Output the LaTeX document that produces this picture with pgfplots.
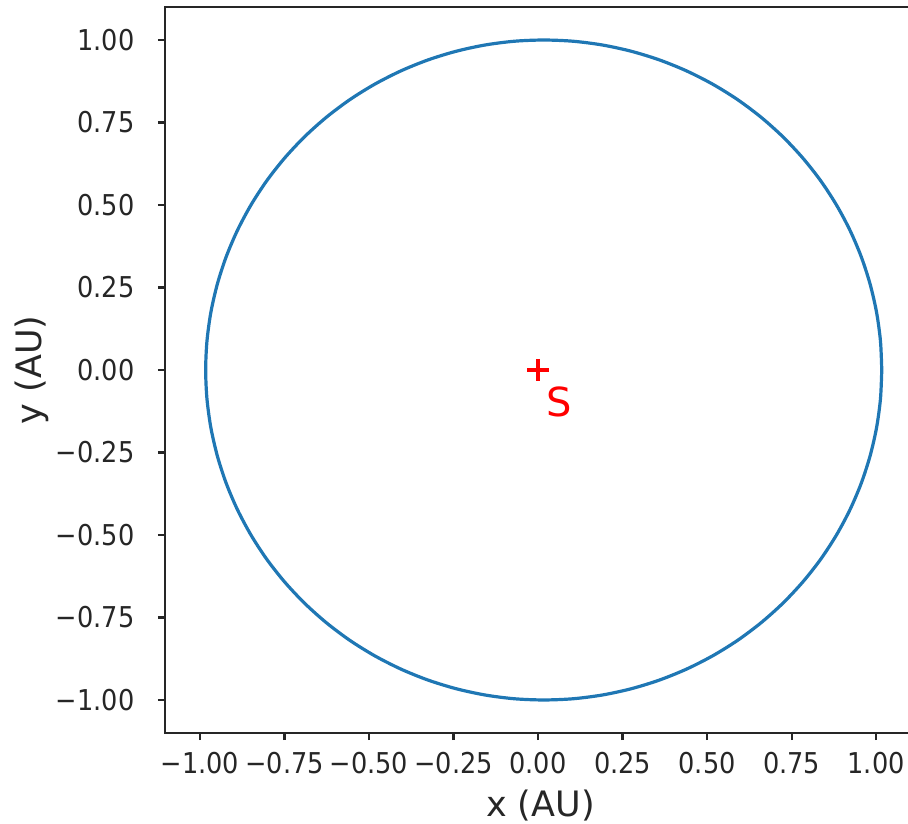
\documentclass[border=0pt]{standalone}
\usepackage{fontspec}
\setmainfont{DejaVu Sans}
\usepackage{pgfplots}
\pgfplotsset{compat=1.18}
\definecolor{mplblue}{HTML}{1F77B4}
\begin{document}
\begin{tikzpicture}
\begin{axis}[
  scale only axis,
  width=375.5pt, height=363pt,
  xmin=-1.1036, xmax=1.1180,
  ymin=-1.1000, ymax=1.1000,
  axis line style={black!85, line width=1.1pt},
  tick style={black!85, line width=1.1pt},
  tick align=outside,
  major tick length=3.6pt,
  xtick={-1,-0.75,-0.5,-0.25,0,0.25,0.5,0.75,1},
  ytick={-1,-0.75,-0.5,-0.25,0,0.25,0.5,0.75,1},
  xticklabels={−1.00,−0.75,−0.50,−0.25,0.00,0.25,0.50,0.75,1.00},
  yticklabels={−1.00,−0.75,−0.50,−0.25,0.00,0.25,0.50,0.75,1.00},
  xtick pos=bottom, ytick pos=left,
  xticklabel style={font=\fontsize{12.8}{14}\selectfont, yscale=1.12, anchor=north, inner sep=0pt, yshift=-5pt, text=black!85},
  yticklabel style={font=\fontsize{12.8}{14}\selectfont, yscale=1.12, anchor=east, inner sep=0pt, xshift=-11.5pt, text=black!85},
  xlabel={x (AU)}, ylabel={y (AU)},
  xlabel style={font=\fontsize{17.5}{20}\selectfont, at={(axis description cs:0.5,-0.1)}, anchor=center, text=black!85},
  ylabel style={font=\fontsize{17.5}{20}\selectfont, at={(axis description cs:-0.1771,0.5)}, anchor=center, text=black!85},
  clip=true,
]
\addplot[mplblue, line width=1.6pt, no markers, smooth] coordinates {
(1.0167,0) (1.0129,0.0872) (1.0015,0.1737) (0.9826,0.2588) (0.9564,0.3420) (0.9230,0.4226) (0.8827,0.5) (0.8359,0.5736) (0.7827,0.6428) (0.7238,0.7071) (0.6595,0.7660) (0.5903,0.8192) (0.5167,0.8660) (0.4393,0.9063) (0.3587,0.9397) (0.2755,0.9659) (0.1904,0.9848) (0.1039,0.9962) (0.0167,0.9999)
(-0.0705,0.9962) (-0.1570,0.9848) (-0.2421,0.9659) (-0.3253,0.9397) (-0.4059,0.9063) (-0.4833,0.8660) (-0.5569,0.8192) (-0.6261,0.7660) (-0.6904,0.7071) (-0.7493,0.6428) (-0.8025,0.5736) (-0.8493,0.5) (-0.8896,0.4226) (-0.9230,0.3420) (-0.9492,0.2588) (-0.9681,0.1737) (-0.9795,0.0872) (-0.9833,0)
(-0.9795,-0.0872) (-0.9681,-0.1737) (-0.9492,-0.2588) (-0.9230,-0.3420) (-0.8896,-0.4226) (-0.8493,-0.5) (-0.8025,-0.5736) (-0.7493,-0.6428) (-0.6904,-0.7071) (-0.6261,-0.7660) (-0.5569,-0.8192) (-0.4833,-0.8660) (-0.4059,-0.9063) (-0.3253,-0.9397) (-0.2421,-0.9659) (-0.1570,-0.9848) (-0.0705,-0.9962) (0.0167,-0.9999)
(0.1039,-0.9962) (0.1904,-0.9848) (0.2755,-0.9659) (0.3587,-0.9397) (0.4393,-0.9063) (0.5167,-0.8660) (0.5903,-0.8192) (0.6595,-0.7660) (0.7238,-0.7071) (0.7827,-0.6428) (0.8359,-0.5736) (0.8827,-0.5) (0.9230,-0.4226) (0.9564,-0.3420) (0.9826,-0.2588) (1.0015,-0.1737) (1.0129,-0.0872) (1.0167,0)
};
\addplot[only marks, mark=+, mark size=5.5pt, red, mark options={line width=2.2pt}] coordinates {(0,0)};
\node[anchor=base west, inner sep=0pt, text=red, font=\fontsize{20}{22}\selectfont] at (axis cs:0.025,-0.14) {S};
\end{axis}
\pgfresetboundingbox
\useasboundingbox (-82.5pt,-45pt) rectangle (371.5pt,366.5pt);
\end{tikzpicture}
\end{document}
